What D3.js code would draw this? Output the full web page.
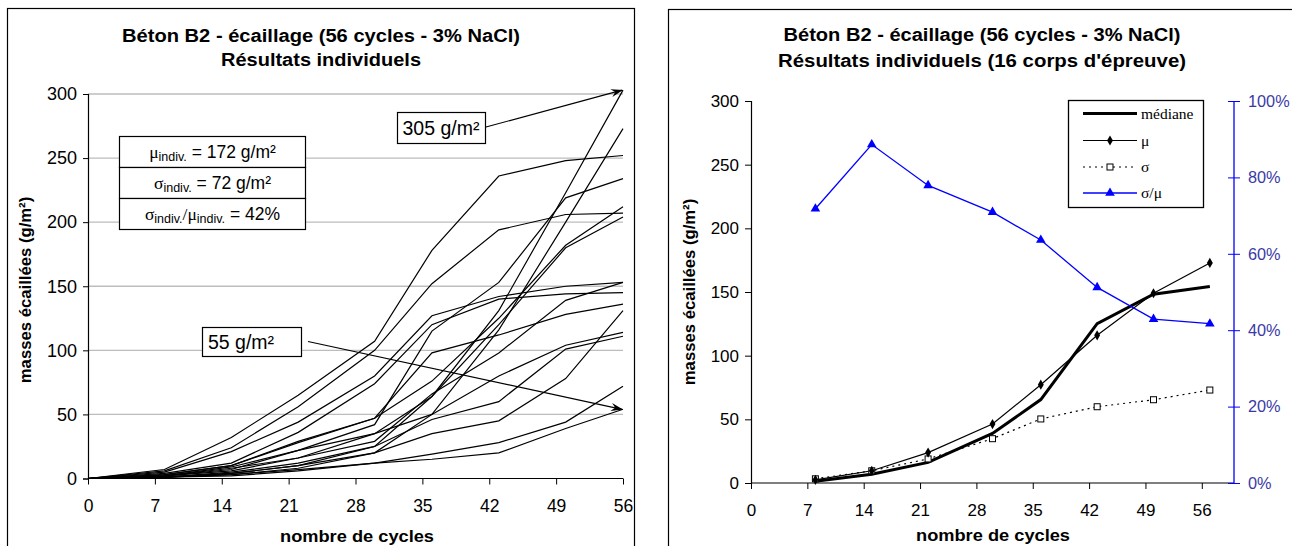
<!DOCTYPE html>
<html><head><meta charset="utf-8">
<script src="https://cdn.jsdelivr.net/npm/d3@7"></script>
<style>
body{margin:0;background:#fff;}
svg{display:block;font-family:"Liberation Sans",Arial,sans-serif;}
</style></head>
<body>
<svg id="c" width="1292" height="546"></svg>
<script>
// ---------- DATA ----------
const leftCycles = [0, 8, 15, 22, 30, 36, 43, 50, 56];
const specimens = [
  [0, 1, 4, 10, 25, 64, 131, 223, 303],
  [0, 1, 3, 8, 20, 50, 116, 200, 273],
  [0, 7, 32, 65, 107, 178, 236, 248, 252],
  [0, 2, 9, 22, 42, 115, 153, 219, 234],
  [0, 3, 10, 28, 47, 76, 125, 182, 212],
  [0, 6, 24, 56, 100, 152, 194, 206, 207],
  [0, 2, 8, 16, 35, 64, 120, 180, 204],
  [0, 5, 21, 44, 80, 127, 142, 150, 153],
  [0, 2, 6, 16, 29, 66, 98, 139, 153],
  [0, 4, 12, 36, 74, 120, 140, 144, 145],
  [0, 3, 10, 29, 47, 98, 112, 128, 136],
  [0, 1, 4, 10, 20, 35, 45, 78, 131],
  [0, 2, 7, 22, 35, 50, 80, 104, 114],
  [0, 1, 5, 12, 25, 46, 60, 101, 111],
  [0, 1, 3, 7, 12, 19, 28, 44, 72],
  [0, 1, 2, 6, 12, 15, 20, 39, 54]
];
const xTicks = [0, 7, 14, 21, 28, 35, 42, 49, 56];
const yTicks = [0, 50, 100, 150, 200, 250, 300];
const pctTicks = [0, 0.2, 0.4, 0.6, 0.8, 1.0];

const rightCycles = [8, 15, 22, 30, 36, 43, 50, 57];
const medianVals = [1.4, 6.9, 16.2, 38.9, 65.5, 125.1, 148.3, 154.3];
const muVals = [2.5, 9.6, 23.9, 46.3, 77.2, 116, 149, 172.8];
const sigmaVals = [3.3, 9.6, 18.9, 34.8, 50.3, 59.9, 65.4, 73];
const cvVals = [0.718, 0.886, 0.779, 0.709, 0.636, 0.512, 0.429, 0.417];

const titleLine1 = "Béton B2 - écaillage (56 cycles - 3% NaCl)";
const leftTitle2 = "Résultats individuels";
const rightTitle2 = "Résultats individuels (16 corps d'épreuve)";
const yLabel = "masses écaillées (g/m²)";
const xLabel = "nombre de cycles";

// ---------- DRAW ----------
const svg = d3.select("#c");
const defs = svg.append("defs");
defs.append("marker").attr("id","arr").attr("viewBox","0 0 12 8")
  .attr("refX",11).attr("refY",4).attr("markerWidth",13).attr("markerHeight",8)
  .attr("markerUnits","userSpaceOnUse").attr("orient","auto")
  .append("path").attr("d","M0,0 L12,4 L0,8 L4,4 Z").attr("fill","#000");

// chart frames
svg.append("rect").attr("x",7.5).attr("y",8.5).attr("width",627).attr("height",560)
  .attr("fill","none").attr("stroke","#000").attr("stroke-width",1.2);
svg.append("rect").attr("x",668.5).attr("y",9.5).attr("width",640).attr("height",560)
  .attr("fill","none").attr("stroke","#000").attr("stroke-width",1.2);

function styleAxis(a, fs){
  a.select(".domain").attr("stroke","#000").attr("stroke-width",1.2);
  a.selectAll(".tick line").attr("stroke","#000");
  a.selectAll("text").attr("font-size",fs).attr("fill","#000").attr("font-family","Liberation Sans, Arial");
}

// ===== LEFT CHART =====
const xL = d3.scaleLinear().domain([0,56]).range([88,623]);
const yL = d3.scaleLinear().domain([0,300]).range([478.5,94]);

const gL = svg.append("g");
gL.selectAll("line.grid").data(yTicks.filter(d=>d>0)).join("line")
  .attr("x1",xL(0)).attr("x2",xL(56)).attr("y1",d=>yL(d)).attr("y2",d=>yL(d))
  .attr("stroke","#bdbdbd").attr("stroke-width",1.3);

const yAxL = gL.append("g").attr("transform",`translate(${xL(0)},0)`)
  .call(d3.axisLeft(yL).tickValues(yTicks).tickSize(5).tickPadding(6));
const xAxL = gL.append("g").attr("transform",`translate(0,${yL(0)})`)
  .call(d3.axisBottom(xL).tickValues(xTicks).tickSize(6).tickPadding(15));
styleAxis(yAxL,18); styleAxis(xAxL,17.5);
xAxL.select(".domain").attr("d",`M${xL(0)},0H${xL(56)}`);

const lineL = d3.line().x((d,i)=>xL(leftCycles[i])).y(d=>yL(d));
gL.selectAll("path.spec").data(specimens).join("path")
  .attr("d",lineL).attr("fill","none").attr("stroke","#000").attr("stroke-width",1.2);

// titles
const titleL = svg.append("text").attr("text-anchor","middle")
  .attr("font-weight","bold").attr("font-size",18);
titleL.append("tspan").attr("x",321).attr("y",42).attr("textLength",398).attr("lengthAdjust","spacingAndGlyphs").text(titleLine1);
titleL.append("tspan").attr("x",321).attr("y",66).attr("textLength",200).attr("lengthAdjust","spacingAndGlyphs").text(leftTitle2);

svg.append("text").attr("transform","translate(31,290) rotate(-90)")
  .attr("text-anchor","middle").attr("font-weight","bold").attr("font-size",16.7).text(yLabel);
svg.append("text").attr("x",357).attr("y",542).attr("text-anchor","middle")
  .attr("font-weight","bold").attr("font-size",16.5).attr("textLength",154).attr("lengthAdjust","spacingAndGlyphs").text(xLabel);

// stats box
const sb = {x:119.5, y:136.5, w:186, h:31};
const statRows = [
  [["μ",17.5],["indiv.",12.5,true],[" = 172 g/m²",17.5]],
  [["σ",17.5],["indiv.",12.5,true],[" = 72 g/m²",17.5]],
  [["σ",17.5],["indiv.",12.5,true],["/μ",17.5],["indiv.",12.5,true],[" = 42%",17.5]]
];
statRows.forEach((row,i)=>{
  svg.append("rect").attr("x",sb.x).attr("y",sb.y+i*sb.h).attr("width",sb.w).attr("height",sb.h)
    .attr("fill","#fff").attr("stroke","#000").attr("stroke-width",1.2);
  const t = svg.append("text").attr("x",sb.x+sb.w/2).attr("y",sb.y+i*sb.h+21)
    .attr("text-anchor","middle").attr("font-size",17.5);
  row.forEach(([s,fs,sub],k)=>{
    const ts = t.append("tspan").attr("font-size",fs).text(s);
    if(sub) ts.attr("dy",3); else if(k>0) ts.attr("dy",-3);
    if(s==="μ"||s==="σ"||s==="/μ") ts.attr("font-family","Liberation Serif, serif");
  });
});

// annotation boxes
svg.append("line").attr("x1",486).attr("y1",127).attr("x2",xL(56)-1).attr("y2",yL(303))
  .attr("stroke","#000").attr("stroke-width",1.2).attr("marker-end","url(#arr)");
svg.append("rect").attr("x",397.5).attr("y",112.5).attr("width",88).attr("height",31)
  .attr("fill","#fff").attr("stroke","#000").attr("stroke-width",1.2);
svg.append("text").attr("x",441).attr("y",135).attr("text-anchor","middle").attr("font-size",19.5).text("305 g/m²");

svg.append("line").attr("x1",308).attr("y1",341.5).attr("x2",xL(56)-1).attr("y2",yL(54))
  .attr("stroke","#000").attr("stroke-width",1.2).attr("marker-end","url(#arr)");
svg.append("rect").attr("x",202.5).attr("y",327.5).attr("width",99).attr("height",29)
  .attr("fill","#fff").attr("stroke","#000").attr("stroke-width",1.2);
svg.append("text").attr("x",241).attr("y",349).attr("text-anchor","middle").attr("font-size",19.5).text("55 g/m²");

// ===== RIGHT CHART =====
const xR = d3.scaleLinear().domain([0,60]).range([751,1234]);
const yR = d3.scaleLinear().domain([0,300]).range([483,101]);
const yP = d3.scaleLinear().domain([0,1]).range([483,101]);
const gR = svg.append("g");

const yAxR = gR.append("g").attr("transform",`translate(${xR(0)},0)`)
  .call(d3.axisLeft(yR).tickValues(yTicks).tickSize(6).tickPadding(6));
const xAxR = gR.append("g").attr("transform",`translate(0,${yR(0)})`)
  .call(d3.axisBottom(xR).tickValues(xTicks).tickSize(6).tickPadding(15));
styleAxis(yAxR,17); styleAxis(xAxR,17);
xAxR.select(".domain").attr("d",`M${xR(0)},0H${xR(60)}`);

const pAx = gR.append("g").attr("transform",`translate(${xR(60)},0)`)
  .call(d3.axisRight(yP).tickValues(pctTicks).tickSize(6).tickPadding(8).tickFormat(d3.format(".0%")));
pAx.select(".domain").attr("stroke","#0000ff").attr("stroke-width",1.3).attr("d",`M0,${yP(0)}V${yP(1)}`);
pAx.selectAll(".tick line").attr("stroke","#0000ff").attr("x1",-6).attr("x2",6);
pAx.selectAll("text").attr("font-size",16.3).attr("fill","#3a3aa6").attr("font-family","Liberation Sans, Arial");

const lineR = vals => d3.line().x((d,i)=>xR(rightCycles[i])).y(d=>yR(d))(vals);
gR.append("path").attr("d",lineR(sigmaVals)).attr("fill","none").attr("stroke","#000")
  .attr("stroke-width",1.2).attr("stroke-dasharray","2,4");
gR.append("path").attr("d",lineR(medianVals)).attr("fill","none").attr("stroke","#000").attr("stroke-width",3);
gR.append("path").attr("d",lineR(muVals)).attr("fill","none").attr("stroke","#000").attr("stroke-width",1.2);
const cvLine = d3.line().x((d,i)=>xR(rightCycles[i])).y(d=>yP(d));
gR.append("path").attr("d",cvLine(cvVals)).attr("fill","none").attr("stroke","#0000ff").attr("stroke-width",1.3);

const diamond = d3.symbol().type(d3.symbolDiamond).size(30);
const tri = d3.symbol().type(d3.symbolTriangle).size(40);
gR.selectAll("rect.sig").data(sigmaVals).join("rect")
  .attr("x",(d,i)=>xR(rightCycles[i])-3).attr("y",d=>yR(d)-3).attr("width",6).attr("height",6)
  .attr("fill","#fff").attr("stroke","#000").attr("stroke-width",1);
gR.selectAll("path.mu").data(muVals).join("path")
  .attr("transform",(d,i)=>`translate(${xR(rightCycles[i])},${yR(d)})`).attr("d",diamond).attr("fill","#000");
gR.selectAll("path.cv").data(cvVals).join("path")
  .attr("transform",(d,i)=>`translate(${xR(rightCycles[i])},${yP(d)})`).attr("d",tri).attr("fill","#0000ff");

// titles
const titleR = svg.append("text").attr("text-anchor","middle").attr("font-weight","bold").attr("font-size",18);
titleR.append("tspan").attr("x",982).attr("y",41).attr("textLength",397).attr("lengthAdjust","spacingAndGlyphs").text(titleLine1);
titleR.append("tspan").attr("x",982).attr("y",67).attr("textLength",408).attr("lengthAdjust","spacingAndGlyphs").text(rightTitle2);
svg.append("text").attr("transform","translate(695,292) rotate(-90)")
  .attr("text-anchor","middle").attr("font-weight","bold").attr("font-size",16.7).text(yLabel);
svg.append("text").attr("x",993).attr("y",541).attr("text-anchor","middle")
  .attr("font-weight","bold").attr("font-size",16.5).attr("textLength",154).attr("lengthAdjust","spacingAndGlyphs").text(xLabel);

// legend
const lg = svg.append("g");
lg.append("rect").attr("x",1068.5).attr("y",100.5).attr("width",135).attr("height",107)
  .attr("fill","#fff").attr("stroke","#000").attr("stroke-width",1.3);
const legItems = [
  {label:"médiane", stroke:"#000", w:3, dash:null, mark:null},
  {label:"μ", stroke:"#000", w:1.2, dash:null, mark:"diamond"},
  {label:"σ", stroke:"#000", w:1.2, dash:"2,4", mark:"square"},
  {label:"σ/μ", stroke:"#0000ff", w:1.3, dash:null, mark:"tri"}
];
const legY = [113.5, 140.5, 167, 193];
legItems.forEach((it,i)=>{
  const y = legY[i];
  const l = lg.append("line").attr("x1",1083).attr("x2",1137).attr("y1",y).attr("y2",y)
    .attr("stroke",it.stroke).attr("stroke-width",it.w);
  if(it.dash) l.attr("stroke-dasharray",it.dash);
  if(it.mark==="diamond") lg.append("path").attr("transform",`translate(1110,${y})`).attr("d",diamond).attr("fill","#000");
  if(it.mark==="square") lg.append("rect").attr("x",1107).attr("y",y-3).attr("width",6).attr("height",6).attr("fill","#fff").attr("stroke","#000");
  if(it.mark==="tri") lg.append("path").attr("transform",`translate(1110,${y})`).attr("d",tri).attr("fill","#0000ff");
  lg.append("text").attr("x",1141).attr("y",y+5).attr("font-family","Liberation Serif, serif")
    .attr("font-size",15.5).text(it.label);
});
</script>
</body></html>
